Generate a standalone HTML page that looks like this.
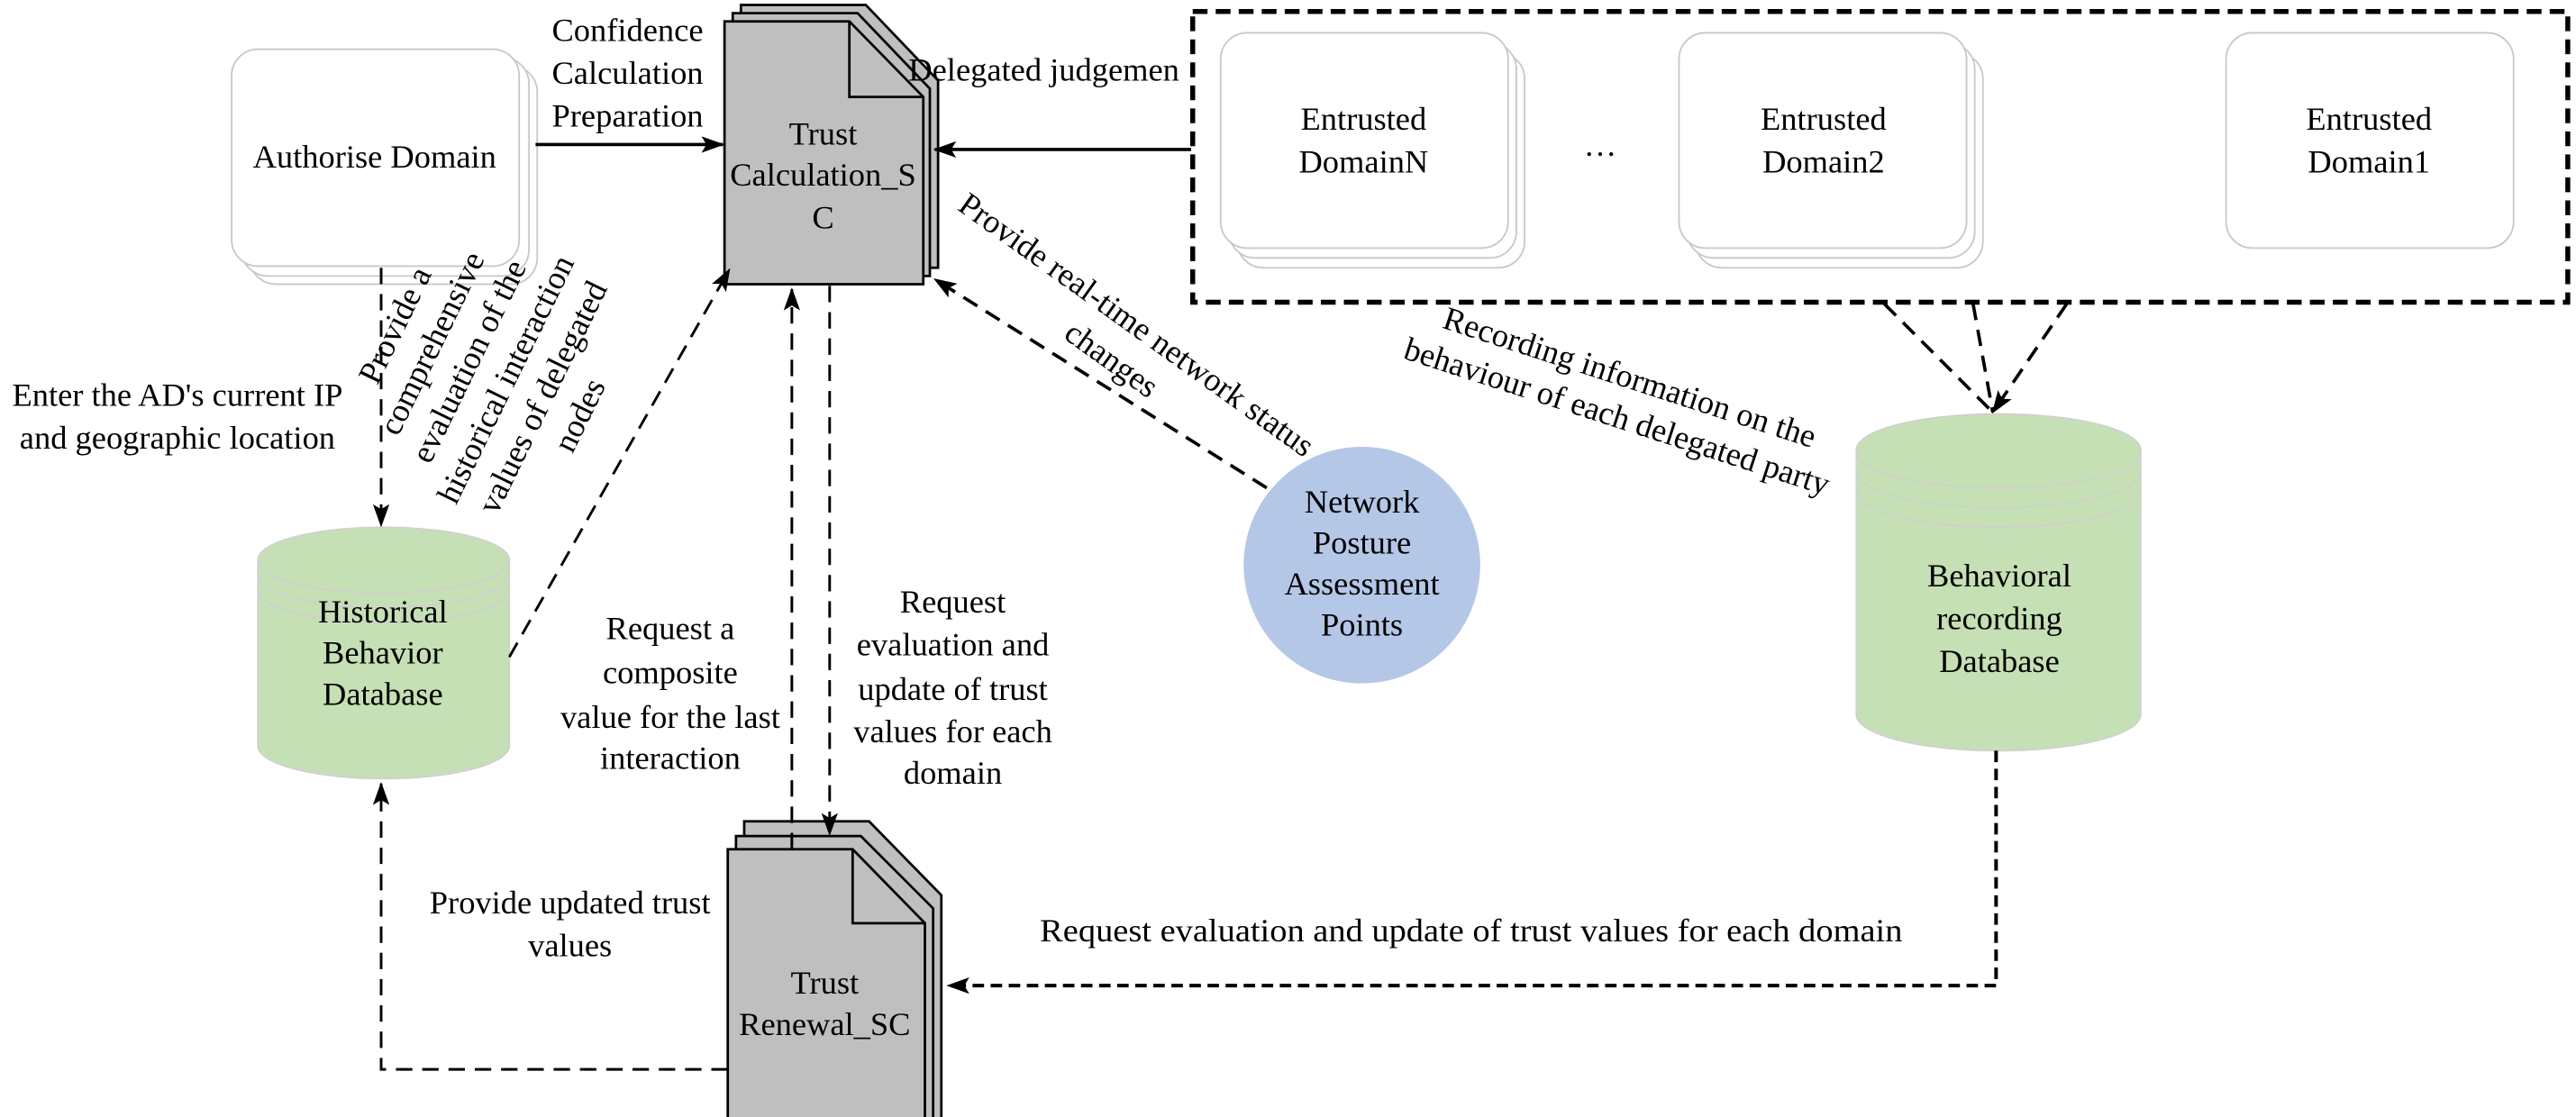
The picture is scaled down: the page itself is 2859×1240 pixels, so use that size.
<!DOCTYPE html>
<html><head><meta charset="utf-8"><style>
html,body{margin:0;padding:0;background:#fff;}
svg{display:block;}
text{font-family:"Liberation Serif","Times New Roman","DejaVu Serif",serif;font-size:20px;fill:#000;}
</style></head><body>
<svg width="2859" height="1240" viewBox="0 0 1568 680" preserveAspectRatio="none" xmlns="http://www.w3.org/2000/svg" font-family="Liberation Serif, serif">
<defs>
<marker id="ar" markerWidth="14" markerHeight="10" refX="13" refY="5" orient="auto" markerUnits="userSpaceOnUse">
<path d="M0,0 L14,5 L0,10 L3,5 Z" fill="#000"/>
</marker>
</defs>

<g fill="#fff" stroke="#c8c8c8" stroke-width="1">
<rect x="152" y="40" width="175" height="133" rx="16"/>
<rect x="147" y="35" width="175" height="133" rx="16"/>
<rect x="141" y="30" width="175" height="132" rx="16"/>
</g>
<text x="228" y="102" text-anchor="middle">Authorise Domain</text>

<rect x="726" y="7" width="837" height="177" fill="none" stroke="#000" stroke-width="3" stroke-dasharray="9,5"/>

<g fill="#fff" stroke="#c8c8c8" stroke-width="1">
<rect x="753" y="32" width="175" height="131" rx="16"/>
<rect x="748" y="26" width="175" height="131" rx="16"/>
<rect x="743" y="20" width="175" height="131" rx="16"/>
<rect x="1032" y="32" width="175" height="131" rx="16"/>
<rect x="1027" y="26" width="175" height="131" rx="16"/>
<rect x="1022" y="20" width="175" height="131" rx="16"/>
<rect x="1355" y="20" width="175" height="131" rx="16"/>
</g>
<text x="830" y="79" text-anchor="middle">Entrusted</text>
<text x="830" y="105" text-anchor="middle">DomainN</text>
<text x="1110" y="79" text-anchor="middle">Entrusted</text>
<text x="1110" y="105" text-anchor="middle">Domain2</text>
<text x="1442" y="79" text-anchor="middle">Entrusted</text>
<text x="1442" y="105" text-anchor="middle">Domain1</text>
<text x="974" y="95" text-anchor="middle">…</text>

<g fill="#bfbfbf" stroke="#000" stroke-width="1.5">
<path d="M451,3 L527,3 L571,49 L571,163 L451,163 Z"/>
<path d="M446,8 L522,8 L566,54 L566,168 L446,168 Z"/>
<path d="M441,13 L517,13 L562,59 L562,173 L441,173 Z"/>
<path d="M517,13 L517,59 L562,59" fill="none"/>
</g>
<text x="501" y="88" text-anchor="middle">Trust</text>
<text x="501" y="113" text-anchor="middle">Calculation_S</text>
<text x="501" y="139" text-anchor="middle">C</text>

<g fill="#bfbfbf" stroke="#000" stroke-width="1.5">
<path d="M453,500 L529,500 L573,545 L573,690 L453,690 Z"/>
<path d="M448,509 L524,509 L568,553 L568,690 L448,690 Z"/>
<path d="M443,517 L519,517 L563,562 L563,690 L443,690 Z"/>
<path d="M519,517 L519,562 L563,562" fill="none"/>
</g>
<text x="502" y="605" text-anchor="middle">Trust</text>
<text x="502" y="630" text-anchor="middle">Renewal_SC</text>

<g>
<path d="M157,341 L157,454 A76.5,20 0 0 0 310,454 L310,341 A76.5,20 0 0 0 157,341 Z" fill="#c5e0b4" stroke="#d0d0d0" stroke-width="1"/>
<path d="M157,341 A76.5,20 0 0 0 310,341" fill="none" stroke="#cfcfcf"/>
<path d="M157,350 A76.5,20 0 0 0 310,350" fill="none" stroke="#cfcfcf"/>
<path d="M157,359 A76.5,20 0 0 0 310,359" fill="none" stroke="#cfcfcf"/>
</g>
<text x="233" y="379" text-anchor="middle">Historical</text>
<text x="233" y="404" text-anchor="middle">Behavior</text>
<text x="233" y="429" text-anchor="middle">Database</text>

<g>
<path d="M1130,274 L1130,435 A86.5,22 0 0 0 1303,435 L1303,274 A86.5,22 0 0 0 1130,274 Z" fill="#c5e0b4" stroke="#d0d0d0" stroke-width="1"/>
<path d="M1130,275 A86.5,22 0 0 0 1303,275" fill="none" stroke="#cfcfcf"/>
<path d="M1130,287 A86.5,22 0 0 0 1303,287" fill="none" stroke="#cfcfcf"/>
<path d="M1130,299 A86.5,22 0 0 0 1303,299" fill="none" stroke="#cfcfcf"/>
</g>
<text x="1217" y="357" text-anchor="middle">Behavioral</text>
<text x="1217" y="383" text-anchor="middle">recording</text>
<text x="1217" y="409" text-anchor="middle">Database</text>

<ellipse cx="829" cy="344" rx="72" ry="72" fill="#b4c7e7"/>
<text x="829" y="312" text-anchor="middle">Network</text>
<text x="829" y="337" text-anchor="middle">Posture</text>
<text x="829" y="362" text-anchor="middle">Assessment</text>
<text x="829" y="387" text-anchor="middle">Points</text>

<line x1="326" y1="88" x2="440" y2="88" stroke="#000" stroke-width="2" marker-end="url(#ar)"/>
<line x1="725" y1="91" x2="569" y2="91" stroke="#000" stroke-width="2" marker-end="url(#ar)"/>
<text x="382" y="25" text-anchor="middle">Confidence</text>
<text x="382" y="51" text-anchor="middle">Calculation</text>
<text x="382" y="77" text-anchor="middle">Preparation</text>
<text x="553" y="49">Delegated judgemen</text>

<g stroke="#000" stroke-width="1.6" fill="none" stroke-dasharray="10,6">
<line x1="232" y1="163" x2="232" y2="320" marker-end="url(#ar)"/>
<line x1="310" y1="400" x2="444" y2="164" marker-end="url(#ar)"/>
<line x1="482" y1="517" x2="482" y2="176" marker-end="url(#ar)"/>
<line x1="505" y1="174" x2="505" y2="508" marker-end="url(#ar)"/>
<line x1="771" y1="297" x2="569" y2="170" marker-end="url(#ar)" stroke-width="2"/>
<line x1="1147" y1="185" x2="1213" y2="251" stroke-width="2"/>
<line x1="1201" y1="185" x2="1213" y2="251" stroke-width="2"/>
<line x1="1258" y1="185" x2="1213" y2="251" stroke-width="2" marker-end="url(#ar)"/>
<polyline points="1215,457 1215,600 577,600" stroke-width="2.2" stroke-dasharray="7,4" marker-end="url(#ar)"/>
<polyline points="443,651 232,651 232,477" stroke-width="1.6" marker-end="url(#ar)"/>
</g>

<text x="108" y="247" text-anchor="middle">Enter the AD's current IP</text>
<text x="108" y="273" text-anchor="middle">and geographic location</text>

<g transform="translate(302,228) rotate(-64)" text-anchor="middle">
<text x="0" y="-62">Provide a</text>
<text x="0" y="-37">comprehensive</text>
<text x="0" y="-12">evaluation of the</text>
<text x="0" y="13">historical interaction</text>
<text x="0" y="38">values of delegated</text>
<text x="0" y="63">nodes</text>
</g>

<g transform="translate(688,203) rotate(35.6)" text-anchor="middle">
<text x="0" y="0">Provide real-time network status</text>
<text x="0" y="26">changes</text>
</g>

<g transform="translate(990,236) rotate(18)" text-anchor="middle">
<text x="0" y="0">Recording information on the</text>
<text x="0" y="25">behaviour of each delegated party</text>
</g>

<text x="408" y="389" text-anchor="middle">Request a</text>
<text x="408" y="416" text-anchor="middle">composite</text>
<text x="408" y="443" text-anchor="middle">value for the last</text>
<text x="408" y="468" text-anchor="middle">interaction</text>

<text x="580" y="373" text-anchor="middle">Request</text>
<text x="580" y="399" text-anchor="middle">evaluation and</text>
<text x="580" y="426" text-anchor="middle">update of trust</text>
<text x="580" y="452" text-anchor="middle">values for each</text>
<text x="580" y="477" text-anchor="middle">domain</text>

<text x="347" y="556" text-anchor="middle">Provide updated trust</text>
<text x="347" y="582" text-anchor="middle">values</text>

<text x="633" y="573" textLength="525" lengthAdjust="spacingAndGlyphs">Request evaluation and update of trust values for each domain</text>
</svg>
</body></html>
